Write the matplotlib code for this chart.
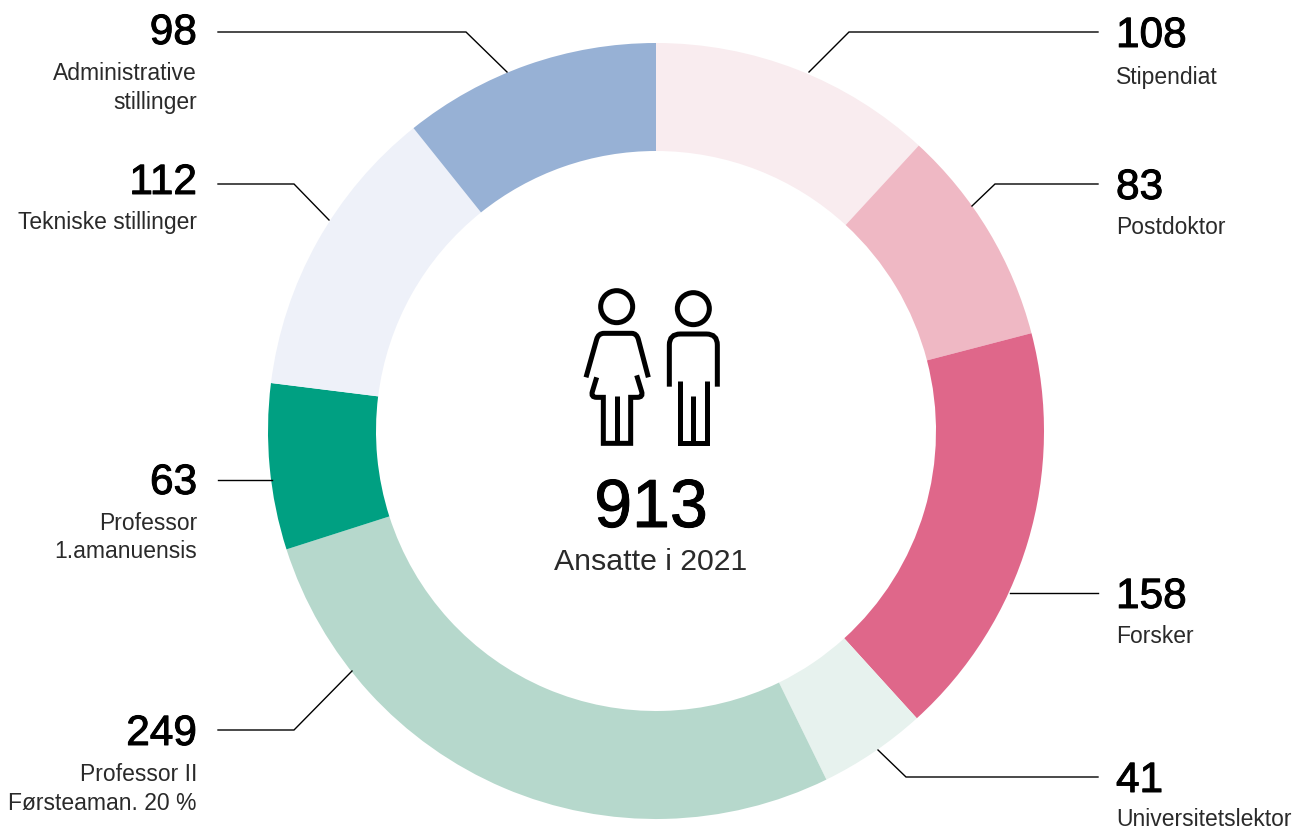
import matplotlib

matplotlib.use("Agg")
import matplotlib.patheffects as pe
import matplotlib.pyplot as plt
from matplotlib.patches import Circle, PathPatch
from matplotlib.path import Path

W, H = 1296, 830
CENTER = (656, H - 431)
R_OUTER = 388
R_WIDTH = 108

# clockwise from 12 o'clock
categories = ["Stipendiat", "Postdoktor", "Forsker", "Universitetslektor",
              "Professor II\nFørsteaman. 20 %", "Professor\n1.amanuensis",
              "Tekniske stillinger", "Administrative\nstillinger"]
values = [108, 83, 158, 41, 249, 63, 112, 98]
colors = ["#F9ECEF", "#EFB8C4", "#DF678A", "#E7F2EE", "#B6D8CC", "#00A082", "#EEF1F9", "#97B1D5"]
total_label = "913"
total_text = "Ansatte i 2021"

# pixel baselines of number / first text line, side of the label, leader polyline
number_y = [47, 199, 608, 792, 745, 494, 194, 44]
text_y = [84, 234, 643, 826, 781, 530, 229, 80]
sides = ["r", "r", "r", "r", "l", "l", "l", "l"]
leaders = [
    [(1098, 32), (849, 32), (809, 72)],
    [(1098, 184), (995, 184), (972, 206)],
    [(1098, 593), (1010, 593)],
    [(1098, 777), (906, 777), (878, 750)],
    [(218, 730), (294, 730), (352, 671)],
    [(218, 480), (272, 480)],
    [(218, 184), (294, 184), (329, 220)],
    [(218, 32), (466, 32), (507, 72)],
]

FONT = ["Liberation Sans", "DejaVu Sans"]
# Liberation has no medium weight, a thin outline gets the numbers close
MEDIUM = [pe.withStroke(linewidth=0.7, foreground="black")]

fig = plt.figure(figsize=(W / 100, H / 100), dpi=100)
ax = fig.add_axes([0, 0, 1, 1])

ax.pie(values, colors=colors, startangle=90, counterclock=False, center=CENTER,
       radius=R_OUTER, wedgeprops={"width": R_WIDTH, "linewidth": 0}, frame=True)
ax.set_xlim(0, W)
ax.set_ylim(0, H)
ax.set_aspect("equal")
ax.axis("off")

for line in leaders:
    ax.plot([p[0] for p in line], [H - p[1] for p in line], color="black", lw=1.0,
            solid_joinstyle="miter")

for cat, val, ny, ty, side in zip(categories, values, number_y, text_y, sides):
    x = 1116 if side == "r" else 197
    ha = "left" if side == "r" else "right"
    ax.text(x, H - ny, str(val), ha=ha, va="baseline", fontsize=30.5, family=FONT,
            color="black", path_effects=MEDIUM)
    for i, part in enumerate(cat.split("\n")):
        ax.text(x, H - ty - i * 28.5, part, ha=ha, va="baseline", fontsize=16.5, family=FONT,
                color="#2a2a2a")

ax.text(651, H - 527, total_label, ha="center", va="baseline", fontsize=49, family=FONT,
        color="black", path_effects=MEDIUM)
ax.text(651, H - 570, total_text, ha="center", va="baseline", fontsize=21.8, family=FONT,
        color="#2a2a2a")


def zp(x, y):
    return 560 + x / 3, H - (270 + y / 3)


def stroke(points, codes=None):
    verts = [zp(*p) for p in points]
    if codes is None:
        codes = [Path.MOVETO] + [Path.LINETO] * (len(verts) - 1)
    ax.add_patch(PathPatch(Path(verts, codes), fill=False, ec="black", lw=3.6,
                           capstyle="butt", joinstyle="miter"))


M, L, Q = Path.MOVETO, Path.LINETO, Path.CURVE3

for cx, cy in [(170, 110), (400, 116)]:
    ax.add_patch(Circle(zp(cx, cy), 16, fill=False, ec="black", lw=3.6))

# woman
stroke([(78, 322), (110, 208), (115, 190), (132, 190), (215, 190), (230, 190), (235, 208), (265, 322)],
       [M, L, Q, Q, L, Q, Q, L])
stroke([(110, 322), (97, 365), (92, 382), (110, 382), (130, 382), (130, 520), (212, 520), (212, 382),
        (232, 382), (250, 382), (245, 365), (230, 316)],
       [M, L, Q, Q, L, L, L, L, L, Q, Q, L])
stroke([(170, 378), (170, 520)])

# man
stroke([(328, 350), (328, 225), (328, 192), (361, 192), (439, 192), (472, 192), (472, 225), (472, 350)],
       [M, L, Q, Q, L, Q, Q, L])
stroke([(360, 332), (360, 520), (440, 520), (440, 332)])
stroke([(400, 378), (400, 520)])

fig.savefig("out.png", dpi=100, facecolor="white")
